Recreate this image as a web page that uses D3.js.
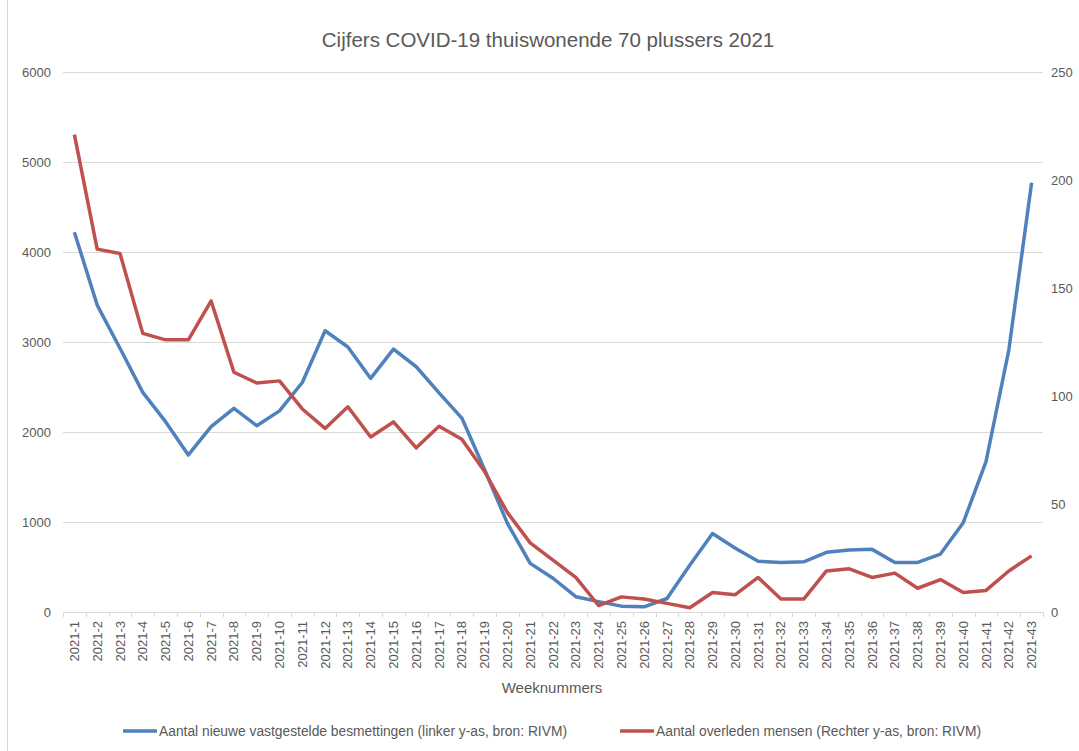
<!DOCTYPE html>
<html>
<head>
<meta charset="utf-8">
<script src="https://cdn.jsdelivr.net/npm/d3@7"></script>
<style>
  body { margin: 0; background: #fff; }
  svg text { font-family: "Liberation Sans", Arial, sans-serif; fill: #595959; }
</style>
</head>
<body>
<div id="chart"></div>
<script>
let weeks = d3.range(1, 44).map(d => '2021-' + d);
let besmettingen = [4220, 3410, 2930, 2440, 2115, 1745, 2060, 2263, 2070, 2235,
  2550, 3125, 2945, 2595, 2920, 2725, 2435, 2155, 1580, 985,
  540, 375, 170, 115, 65, 58, 150, 520, 872, 708,
  563, 551, 558, 663, 689, 696, 551, 551, 644, 992,
  1672, 2910, 4770];
let overleden = [221, 168, 166, 129, 126, 126, 144, 111, 106, 107,
  94, 85, 95, 81, 88, 76, 86, 80, 65, 46,
  32, 24, 16, 3, 7, 6, 4, 2, 9, 8,
  16, 6, 6, 19, 20, 16, 18, 11, 15, 9,
  10, 19, 26];
let leftTicks = [0, 1000, 2000, 3000, 4000, 5000, 6000];
let rightTicks = [0, 50, 100, 150, 200, 250];

let width = 1079, height = 751;
let margin = { top: 72, right: 36, bottom: 139, left: 63 };
let innerW = width - margin.left - margin.right;
let innerH = height - margin.top - margin.bottom;

let svg = d3.select('#chart').append('svg')
  .attr('width', width)
  .attr('height', height);

// chart frame edge
svg.append('line')
  .attr('x1', 7.5).attr('x2', 7.5).attr('y1', 0).attr('y2', height)
  .attr('stroke', '#d9d9d9');

svg.append('text')
  .attr('x', 548).attr('y', 47)
  .attr('text-anchor', 'middle')
  .style('font-size', '20.5px')
  .text('Cijfers COVID-19 thuiswonende 70 plussers 2021');

let g = svg.append('g').attr('transform', `translate(${margin.left},${margin.top})`);

let x = d3.scaleBand().domain(weeks).range([0, innerW]);
let yL = d3.scaleLinear().domain([0, 6000]).range([innerH, 0]);
let yR = d3.scaleLinear().domain([0, 250]).range([innerH, 0]);

// gridlines
g.selectAll('.grid').data(leftTicks.filter(d => d > 0)).enter()
  .append('line')
  .attr('x1', 0).attr('x2', innerW)
  .attr('y1', d => Math.round(yL(d)) + 0.5).attr('y2', d => Math.round(yL(d)) + 0.5)
  .attr('stroke', '#d9d9d9').attr('stroke-width', 1);

// left axis labels
g.selectAll('.lt').data(leftTicks).enter()
  .append('text')
  .attr('x', -12).attr('y', d => yL(d))
  .attr('dy', '0.35em')
  .attr('text-anchor', 'end')
  .style('font-size', '13px')
  .text(d => d);

// right axis labels
g.selectAll('.rt').data(rightTicks).enter()
  .append('text')
  .attr('x', innerW + 8).attr('y', d => yR(d))
  .attr('dy', '0.35em')
  .attr('text-anchor', 'start')
  .style('font-size', '13px')
  .text(d => d);

// x axis line and ticks
g.append('line')
  .attr('x1', 0).attr('x2', innerW)
  .attr('y1', innerH + 0.5).attr('y2', innerH + 0.5)
  .attr('stroke', '#d9d9d9');
g.selectAll('.xt').data(weeks.concat(['end'])).enter()
  .append('line')
  .attr('x1', (d, i) => Math.round(i * x.step()) + 0.5)
  .attr('x2', (d, i) => Math.round(i * x.step()) + 0.5)
  .attr('y1', innerH).attr('y2', innerH + 5)
  .attr('stroke', '#d9d9d9');

g.selectAll('.xl').data(weeks).enter()
  .append('text')
  .attr('transform', d => `translate(${x(d) + x.bandwidth() / 2},${innerH + 9}) rotate(-90)`)
  .attr('dy', '0.35em')
  .attr('text-anchor', 'end')
  .style('font-size', '13px')
  .text(d => d);

svg.append('text')
  .attr('x', 552).attr('y', 693)
  .attr('text-anchor', 'middle')
  .style('font-size', '15px')
  .text('Weeknummers');

// lines
let lineL = d3.line()
  .x((d, i) => x(weeks[i]) + x.bandwidth() / 2)
  .y(d => yL(d));
let lineR = d3.line()
  .x((d, i) => x(weeks[i]) + x.bandwidth() / 2)
  .y(d => yR(d));

g.append('path')
  .datum(besmettingen)
  .attr('d', lineL)
  .attr('fill', 'none')
  .attr('stroke', '#4f81bd')
  .attr('stroke-width', 3.5)
  .attr('stroke-linejoin', 'round');

g.append('path')
  .datum(overleden)
  .attr('d', lineR)
  .attr('fill', 'none')
  .attr('stroke', '#c0504d')
  .attr('stroke-width', 3.5)
  .attr('stroke-linejoin', 'round');

// legend
let legend = [
  { x: 123, color: '#4f81bd', label: 'Aantal nieuwe vastgestelde besmettingen (linker y-as, bron: RIVM)' },
  { x: 620, color: '#c0504d', label: 'Aantal overleden mensen (Rechter y-as, bron: RIVM)' }
];
let lg = svg.selectAll('.legend').data(legend).enter().append('g');
lg.append('line')
  .attr('x1', d => d.x).attr('x2', d => d.x + 34)
  .attr('y1', 731).attr('y2', 731)
  .attr('stroke', d => d.color).attr('stroke-width', 3.5);
lg.append('text')
  .attr('x', d => d.x + 36).attr('y', 731)
  .attr('dy', '0.35em')
  .style('font-size', '13.8px')
  .text(d => d.label);
</script>
</body>
</html>
